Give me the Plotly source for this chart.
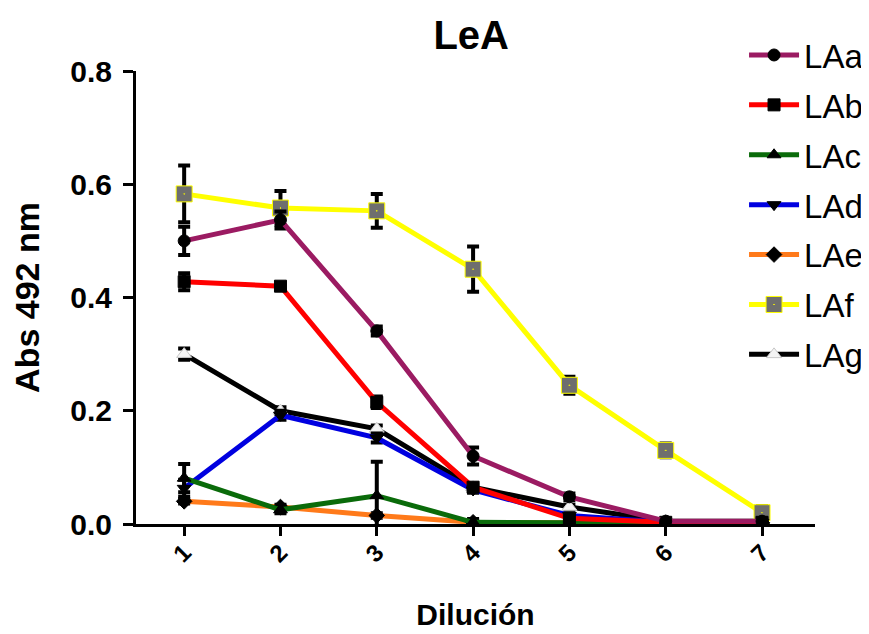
import plotly.graph_objects as go

dilutions = [1, 2, 3, 4, 5, 6, 7]
tick_labels = ["1", "2", "3", "4", "5", "6", "7"]

LAa = [0.500, 0.537, 0.341, 0.120, 0.048, 0.005, 0.005]
LAa_err = [0.025, 0.015, 0.008, 0.015, 0.006, 0.004, 0.004]
LAb = [0.428, 0.420, 0.215, 0.065, 0.010, 0.003, 0.003]
LAb_err = [0.015, 0.005, 0.010, 0.006, 0.004, 0.003, 0.003]
LAc = [0.081, 0.025, 0.050, 0.003, 0.002, 0.002, 0.002]
LAc_err = [0.025, 0.006, 0.060, 0.006, 0.003, 0.003, 0.003]
LAd = [0.063, 0.192, 0.152, 0.060, 0.015, 0.003, 0.003]
LAd_err = [0.015, 0.008, 0.008, 0.005, 0.004, 0.003, 0.003]
LAe = [0.040, 0.030, 0.015, 0.003, 0.002, 0.002, 0.002]
LAe_err = [0.004, 0.004, 0.004, 0.003, 0.003, 0.003, 0.003]
LAf = [0.583, 0.558, 0.553, 0.450, 0.245, 0.130, 0.020]
LAf_err = [0.050, 0.030, 0.030, 0.040, 0.015, 0.012, 0.012]
LAg = [0.300, 0.200, 0.168, 0.065, 0.030, 0.005, 0.005]
LAg_err = [0.010, 0.006, 0.006, 0.004, 0.004, 0.003, 0.003]

series = [
    ("LAa", LAa, LAa_err, "#9b1b62", "circle", 12, "black", "black"),
    ("LAb", LAb, LAb_err, "#ff0000", "square", 12, "black", "black"),
    ("LAc", LAc, LAc_err, "#0a6b0a", "triangle-up", 12, "black", "black"),
    ("LAd", LAd, LAd_err, "#0000e0", "triangle-down", 12, "black", "black"),
    ("LAe", LAe, LAe_err, "#ff7a1a", "diamond", 12, "black", "black"),
    ("LAf", LAf, LAf_err, "#ffff00", "square-dot", 16, "#6e6e6e", "#ffff00"),
    ("LAg", LAg, LAg_err, "#000000", "triangle-up", 13, "#f4f4f4", "#c8c8c8"),
]

fig = go.Figure()
for rank, (name, vals, errs, col, sym, msize, mcol, lcol) in reversed(list(enumerate(series))):
    fig.add_trace(go.Scatter(
        x=dilutions, y=vals, name=name, mode="lines+markers",
        line=dict(color=col, width=5),
        marker=dict(symbol=sym, size=msize, color=mcol, line=dict(color=lcol, width=1)),
        error_y=dict(type="data", array=errs, visible=True, color="black", thickness=4, width=6),
        legendgroup=name, legendrank=rank + 1,
    ))

font_family = "Liberation Sans, Arial, sans-serif"
fig.update_layout(
    width=869, height=634,
    paper_bgcolor="white", plot_bgcolor="white",
    margin=dict(l=128, r=62, t=63, b=118, autoexpand=False),
    title=dict(text="<b>LeA</b>", x=0.533, xref="container", y=0.957, yref="container",
               xanchor="center", yanchor="middle",
               font=dict(family=font_family, size=40, color="black")),
    font=dict(family=font_family, color="black"),
    showlegend=True,
    legend=dict(x=0.847, y=0.97, xref="container", yref="container",
                xanchor="left", yanchor="top", itemwidth=50,
                font=dict(family=font_family, size=33, color="black"),
                tracegroupgap=4, bgcolor="rgba(0,0,0,0)", maxheight=634),
    xaxis=dict(range=[0.5, 7.55], tickvals=dilutions, ticktext=tick_labels,
               tickangle=-45, ticks="outside", ticklen=9, tickwidth=3, tickcolor="black",
               ticklabelstandoff=-7,
               showline=True, linecolor="black", linewidth=3, showgrid=False, zeroline=False,
               tickfont=dict(family=font_family, size=24, color="black", weight="bold"),
               title=dict(text="<b>Dilución</b>", standoff=38,
                          font=dict(family=font_family, size=30, color="black"))),
    yaxis=dict(range=[0, 0.8], tickvals=[0, 0.2, 0.4, 0.6, 0.8], tickformat=".1f",
               ticks="outside", ticklen=10, tickwidth=3, tickcolor="black",
               ticklabelstandoff=5,
               showline=True, linecolor="black", linewidth=3, showgrid=False, zeroline=False,
               tickfont=dict(family=font_family, size=30, color="black", weight="bold"),
               title=dict(text="<b>Abs 492 nm</b>", standoff=23,
                          font=dict(family=font_family, size=34, color="black"))),
)

fig.write_html("out.html")
